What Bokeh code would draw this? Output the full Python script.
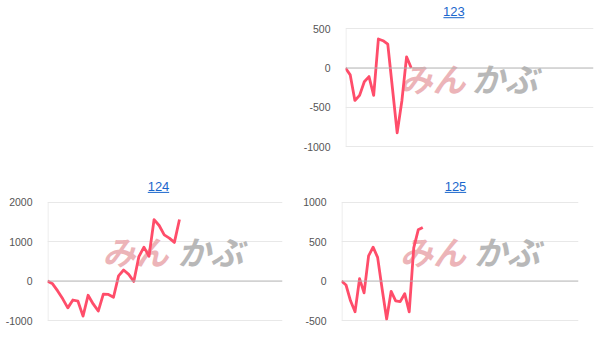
from bokeh.plotting import figure
from bokeh.models import FixedTicker, Span, Spacer, Range1d
from bokeh.layouts import column, row
from bokeh.core.properties import value
from bokeh.embed import file_html
from bokeh.resources import INLINE

# ---- data ----
titles = ["123", "124", "125"]
values_123 = [0, -87, -413, -348, -174, -109, -348, 370, 348, 304, -261, -826, -420, 143, 0]
values_124 = [0, -70, -250, -450, -680, -480, -510, -890, -360, -580, -760, -330, -340,
              -410, 130, 280, 170, -10, 620, 860, 630, 1560, 1410, 1170, 1090, 980, 1560]
values_125 = [0, -50, -250, -390, 30, -150, 320, 430, 300, -100, -480, -130, -250, -260,
              -160, -390, 420, 650, 680]
ticks_123 = [-1000, -500, 0, 500]
ticks_124 = [-1000, 0, 1000, 2000]
ticks_125 = [-500, 0, 500, 1000]
watermark = ["みん", "かぶ"]

LINE = "#ff4d6a"
GRID = "#e8e8e8"
BASE = "#b0b0b0"
LINK = "#1a66cc"
FONT = "Liberation Sans"
CJK = "Noto Sans CJK JP"


def chart(title, vals, ticks, w, h, fl, fr, ytop_px, ybot_px, span,
          title_cx, title_top, title_bot, wm_pink_cx, wm_gray_cx, wm_cy):
    tmax, tmin = max(ticks), min(ticks)
    per_px = (tmax - tmin) / (ybot_px - ytop_px)
    y1 = tmax + ytop_px * per_px
    y0 = tmin - (h - ybot_px) * per_px
    x0, x1 = 0.0, span
    fw = fr - fl

    def dx(px):
        return x0 + (px - fl) / fw * (x1 - x0)

    def dy(py):
        return y1 - py * per_px

    p = figure(width=w, height=h, x_range=Range1d(x0, x1), y_range=Range1d(y0, y1),
               x_axis_location=None, toolbar_location=None, output_backend="svg",
               min_border_left=fl, min_border_right=w - fr,
               min_border_top=0, min_border_bottom=0)
    p.outline_line_color = None
    p.background_fill_color = "white"
    p.border_fill_color = "white"
    p.xgrid.visible = False
    p.ygrid.ticker = FixedTicker(ticks=[t for t in ticks if t != 0])
    p.ygrid.grid_line_color = GRID
    p.ygrid.grid_line_width = 1

    ax = p.yaxis[0]
    ax.ticker = FixedTicker(ticks=ticks)
    ax.major_label_overrides = {t: str(t) for t in ticks}
    ax.axis_line_color = None
    ax.major_tick_line_color = None
    ax.minor_tick_line_color = None
    ax.major_label_standoff = 9
    ax.major_label_text_font = FONT
    ax.major_label_text_font_size = "10.5px"
    ax.major_label_text_color = "#555555"

    # vertical axis line
    p.segment(x0=[dx(fl + 0.5)], y0=[tmin], x1=[dx(fl + 0.5)], y1=[tmax],
              line_color=GRID, line_width=1)

    # watermark
    p.text(x=[dx(wm_pink_cx)], y=[dy(wm_cy)], text=[watermark[0]],
           text_align="center", text_baseline="middle",
           text_font=value(CJK), text_font_style="bold italic",
           text_font_size="33px", text_color="#ecb4b8")
    p.text(x=[dx(wm_gray_cx)], y=[dy(wm_cy)], text=[watermark[1]],
           text_align="center", text_baseline="middle",
           text_font=value(CJK), text_font_style="bold italic",
           text_font_size="33px", text_color="#b8b8b8")

    # baseline
    p.add_layout(Span(location=0, dimension="width", line_color=BASE, line_width=1))

    # series line
    p.line(x=list(range(len(vals))), y=vals, line_color=LINE, line_width=2.8,
           line_join="round")

    # title (link style)
    p.text(x=[dx(title_cx)], y=[dy((title_top + title_bot) / 2)], text=[title],
           text_align="center", text_baseline="middle",
           text_font=value(FONT), text_font_size="13px", text_color=LINK)
    p.segment(x0=[dx(title_cx - 10.7)], y0=[dy(title_bot + 1.2)],
              x1=[dx(title_cx + 10.7)], y1=[dy(title_bot + 1.2)],
              line_color=LINK, line_width=1)
    return p


pA = chart(titles[0], values_123, ticks_123, 301, 177, 39, 293, 28.3, 146.0, 52.8,
           150, 6.7, 16.0, 128, 202, 77.0)
pB = chart(titles[1], values_124, ticks_124, 300, 177, 47, 282, 24.7, 143.0, 46.3,
           158, 4.7, 13.7, 135, 210, 73.5)
pC = chart(titles[2], values_125, ticks_125, 301, 177, 41, 278, 24.7, 143.0, 52.5,
           155, 4.7, 13.7, 132.5, 206.5, 73.5)

layout = column(row(Spacer(width=300, height=177), pA), row(pB, pC))

open("out.html", "w").write(file_html(layout, INLINE))
